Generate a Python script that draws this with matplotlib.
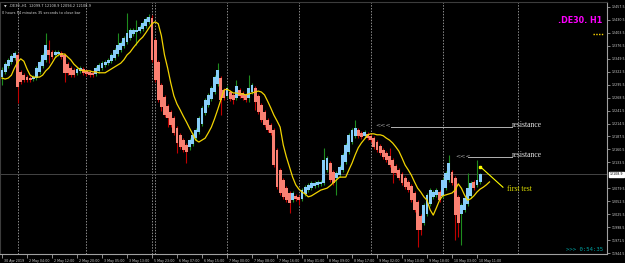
import matplotlib
matplotlib.use("Agg")
import matplotlib.pyplot as plt
import matplotlib.transforms as mtransforms

# Heiken Ashi bars, .DE30. H1
ha_open = [12311, 12322, 12334, 12342, 12351, 12357, 12322, 12315, 12311, 12309,
           12307, 12309, 12322, 12334, 12347, 12367, 12363, 12357, 12359, 12361,
           12357, 12338, 12330, 12326, 12320, 12324, 12328, 12324, 12322, 12320,
           12318, 12324, 12330, 12336, 12340, 12344, 12351, 12359, 12367, 12376,
           12384, 12392, 12401, 12405, 12407, 12411, 12417, 12426, 12434, 12388,
           12342, 12295, 12270, 12251, 12238, 12226, 12205, 12191, 12180, 12170,
           12166, 12172, 12184, 12197, 12214, 12236, 12253, 12266, 12280, 12297,
           12309, 12284, 12272, 12280, 12274, 12268, 12284, 12278, 12274, 12268,
           12280, 12288, 12272, 12253, 12238, 12222, 12211, 12201, 12159, 12118,
           12097, 12080, 12070, 12055, 12064, 12062, 12058, 12068, 12076, 12080,
           12085, 12087, 12089, 12091, 12118, 12132, 12114, 12101, 12107, 12118,
           12134, 12155, 12176, 12189, 12201, 12195, 12189, 12193, 12189, 12184,
           12176, 12168, 12159, 12153, 12147, 12139, 12126, 12118, 12110, 12101,
           12093, 12085, 12070, 12051, 12022, 12008, 12026, 12047, 12062, 12066,
           12072, 12064, 12080, 12097, 12114, 12101, 12062, 12026, 12035, 12047,
           12064, 12093, 12087, 12093]
ha_close = [12326, 12338, 12347, 12355, 12361, 12290, 12301, 12305, 12305, 12305,
            12311, 12330, 12342, 12357, 12378, 12357, 12353, 12363, 12363, 12353,
            12320, 12320, 12315, 12315, 12328, 12330, 12320, 12318, 12315, 12315,
            12330, 12336, 12340, 12342, 12347, 12357, 12367, 12378, 12382, 12392,
            12403, 12409, 12409, 12409, 12415, 12424, 12432, 12436, 12347, 12305,
            12263, 12249, 12232, 12226, 12211, 12195, 12174, 12166, 12159, 12155,
            12180, 12191, 12201, 12226, 12247, 12263, 12274, 12288, 12311, 12326,
            12263, 12268, 12288, 12266, 12263, 12293, 12272, 12268, 12263, 12288,
            12295, 12259, 12238, 12222, 12211, 12201, 12195, 12128, 12082, 12070,
            12062, 12055, 12049, 12070, 12058, 12055, 12076, 12082, 12087, 12091,
            12091, 12093, 12093, 12139, 12143, 12097, 12091, 12112, 12124, 12149,
            12170, 12191, 12201, 12205, 12189, 12186, 12197, 12184, 12180, 12166,
            12159, 12153, 12145, 12139, 12128, 12112, 12112, 12101, 12091, 12082,
            12076, 12055, 12035, 11993, 11993, 12045, 12066, 12076, 12072, 12076,
            12055, 12097, 12112, 12132, 12091, 12024, 12008, 12045, 12060, 12080,
            12091, 12080, 12097, 12108.9]
ha_high = [12332, 12342, 12351, 12359, 12365, 12361, 12326, 12319, 12315, 12313,
           12315, 12334, 12346, 12361, 12403, 12388, 12367, 12367, 12367, 12365,
           12361, 12342, 12334, 12330, 12332, 12334, 12332, 12328, 12326, 12324,
           12334, 12340, 12344, 12346, 12351, 12361, 12371, 12403, 12386, 12396,
           12444, 12413, 12413, 12430, 12419, 12428, 12436, 12442, 12440, 12392,
           12346, 12299, 12274, 12255, 12242, 12230, 12209, 12195, 12184, 12174,
           12184, 12195, 12205, 12230, 12251, 12267, 12278, 12292, 12315, 12340,
           12313, 12288, 12292, 12284, 12278, 12305, 12288, 12282, 12278, 12315,
           12299, 12292, 12276, 12257, 12242, 12226, 12215, 12205, 12163, 12122,
           12101, 12084, 12074, 12074, 12068, 12066, 12080, 12086, 12091, 12095,
           12095, 12097, 12097, 12164, 12147, 12136, 12118, 12116, 12128, 12153,
           12174, 12195, 12205, 12222, 12205, 12199, 12201, 12197, 12193, 12188,
           12180, 12172, 12163, 12157, 12164, 12143, 12130, 12122, 12114, 12105,
           12097, 12089, 12074, 12055, 12026, 12049, 12070, 12080, 12076, 12080,
           12076, 12101, 12116, 12149, 12118, 12105, 12066, 12049, 12064, 12112,
           12095, 12097, 12139, 12112]
ha_low = [12295, 12318, 12330, 12338, 12347, 12257, 12297, 12301, 12301, 12301,
          12303, 12305, 12318, 12330, 12343, 12340, 12349, 12353, 12355, 12349,
          12301, 12316, 12311, 12311, 12316, 12320, 12316, 12314, 12311, 12311,
          12314, 12320, 12326, 12332, 12336, 12340, 12347, 12355, 12363, 12372,
          12380, 12388, 12397, 12378, 12403, 12407, 12413, 12422, 12343, 12301,
          12259, 12240, 12228, 12207, 12207, 12191, 12153, 12162, 12155, 12132,
          12160, 12168, 12180, 12193, 12210, 12232, 12249, 12262, 12276, 12293,
          12232, 12264, 12268, 12262, 12255, 12264, 12268, 12264, 12259, 12260,
          12276, 12243, 12234, 12218, 12207, 12197, 12191, 12124, 12078, 12066,
          12058, 12051, 12028, 12051, 12054, 12045, 12054, 12064, 12072, 12076,
          12081, 12083, 12085, 12087, 12114, 12093, 12087, 12066, 12103, 12114,
          12130, 12151, 12172, 12185, 12185, 12182, 12185, 12180, 12176, 12162,
          12155, 12149, 12141, 12135, 12124, 12091, 12108, 12097, 12087, 12078,
          12072, 12051, 12031, 11958, 11983, 12004, 12022, 12043, 12058, 12062,
          12051, 12060, 12076, 12093, 12087, 11972, 11978, 11962, 12031, 12043,
          12060, 12076, 12083, 12089]

# moving average (shifted, runs a few bars past the last candle)
ma_line = [12309, 12307, 12309, 12315, 12330, 12342, 12349, 12344, 12328, 12315,
           12311, 12311, 12311, 12315, 12324, 12330, 12340, 12351, 12357, 12359,
           12359, 12353, 12347, 12338, 12332, 12326, 12324, 12324, 12324, 12322,
           12322, 12320, 12320, 12320, 12324, 12328, 12332, 12336, 12340, 12347,
           12357, 12363, 12372, 12380, 12388, 12394, 12403, 12413, 12422, 12426,
           12422, 12397, 12357, 12330, 12299, 12272, 12255, 12243, 12230, 12218,
           12205, 12193, 12180, 12176, 12180, 12184, 12195, 12207, 12224, 12243,
           12263, 12284, 12286, 12282, 12278, 12278, 12276, 12276, 12274, 12276,
           12278, 12280, 12282, 12280, 12274, 12261, 12247, 12232, 12220, 12207,
           12170, 12145, 12124, 12103, 12087, 12078, 12072, 12068, 12062, 12064,
           12068, 12072, 12076, 12078, 12080, 12085, 12091, 12097, 12103, 12103,
           12103, 12118, 12132, 12149, 12164, 12174, 12182, 12191, 12193, 12193,
           12191, 12191, 12189, 12184, 12180, 12174, 12166, 12157, 12143, 12128,
           12118, 12107, 12093, 12080, 12072, 12062, 12055, 12035, 12024, 12039,
           12055, 12064, 12066, 12068, 12070, 12076, 12089, 12080, 12066, 12055,
           12058, 12064, 12072, 12078, 12082, 12087, 12093]

tick_bars = list(range(0, 153, 8))
tick_labels = ["30 Apr 2019", "2 May 04:00", "2 May 12:00", "2 May 20:00", "3 May 05:00",
               "3 May 13:00", "5 May 23:00", "6 May 07:00", "6 May 15:00", "7 May 00:00",
               "7 May 08:00", "7 May 16:00", "8 May 01:00", "8 May 09:00", "8 May 17:00",
               "9 May 02:00", "9 May 10:00", "9 May 18:00", "10 May 03:00", "10 May 11:00"]
day_starts = [5, 27, 48, 49, 72, 95, 118, 141, 165]
price_ticks = [12457.5, 12430.5, 12403.5, 12376.5, 12349.5, 12322.5, 12295.5, 12268.5,
               12241.5, 12214.5, 12187.5, 12160.5, 12133.5, 12079.5, 12052.5, 12025.5,
               11998.5, 11971.5, 11944.5]
last_price = 12108.9

# drawn objects
res1 = (124.5, 163.2, 12208)
res2 = (149.1, 163.2, 12145)
first_test = ((153, 12125), (160.3, 12082))

UP_BODY = "#87cefa"
DN_BODY = "#fa8072"
UP_WICK = "#1e8c1e"
DN_WICK = "#c00000"

fig = plt.figure(figsize=(6.25, 2.63), dpi=100, facecolor="black")
ax = fig.add_axes([0.0, 0.0331, 0.9712, 0.9593], facecolor="black")

n = len(ha_close)
xs = list(range(n))
up = [ha_close[i] >= ha_open[i] for i in xs]

ax.vlines(xs, ha_low, ha_high, colors=[UP_WICK if u else DN_WICK for u in up],
          linewidth=0.8, zorder=2)
ax.bar(xs, [ha_close[i] - ha_open[i] for i in xs], bottom=ha_open, width=0.95,
       color=[UP_BODY if u else DN_BODY for u in up], linewidth=0, zorder=3)
ax.plot(range(len(ma_line)), ma_line, color="#f2d400", linewidth=0.9, zorder=4)

# period separators and bid line
for d in day_starts:
    ax.axvline(d, color="#8c8c8c", linewidth=0.7, linestyle=(0, (1.5, 1.5)), zorder=1)
ax.axhline(last_price, color="#505050", linewidth=0.6, zorder=1)

# resistance lines
for (x0, x1, y), arrow_x in [(res1, 119.6), (res2, 145.2)]:
    ax.plot([x0, x1], [y, y], color="#b4b4b4", linewidth=0.7, zorder=5)
    ax.text(arrow_x, y + 3, "<<<", color="#a8a8a8", fontsize=4.5, va="center",
            ha="left", family="DejaVu Sans", zorder=6)
    ax.text(x1 + 0.1, y + 4, "resistance", color="#e6e6e6", fontsize=5.5, va="center",
            ha="left", family="Liberation Serif", zorder=6)

(ax0, ay0), (ax1, ay1) = first_test
ax.plot([ax0, ax1], [ay0, ay1], color="#ffff00", linewidth=0.8, zorder=6)
ax.plot([ax0], [ay0], marker="s", markersize=2, color="#ffff00", zorder=6)
ax.text(ax1 + 1.2, ay1 - 4, "first test", color="#d8d800", fontsize=5.5, va="center",
        ha="left", family="Liberation Serif", zorder=6)

ax.set_xlim(-0.64, 193.6)
ax.set_ylim(11942.5, 12467.2)

# axes look
for side in ["left", "top"]:
    ax.spines[side].set_color("#3c3c3c")
for side in ["right", "bottom"]:
    ax.spines[side].set_color("#a0a0a0")
    ax.spines[side].set_linewidth(0.8)

ax.yaxis.tick_right()
ax.set_yticks(price_ticks)
ax.set_yticklabels([f"{p:.1f}" for p in price_ticks])
ax.tick_params(axis="y", colors="#a0a0a0", labelcolor="#d0d0d0", labelsize=2.3,
               length=2, width=0.6, pad=1.2)
ax.set_xticks(tick_bars)
ax.set_xticklabels(tick_labels)
ax.tick_params(axis="x", colors="#a0a0a0", labelcolor="#d0d0d0", labelsize=2.3,
               length=3, width=0.6, pad=0.4)
offset = mtransforms.ScaledTranslation(1.5 / 100, 0, fig.dpi_scale_trans)
for lbl in ax.get_xticklabels():
    lbl.set_ha("left")
    lbl.set_transform(lbl.get_transform() + offset)

# current price box on the scale
price_tr = mtransforms.blended_transform_factory(ax.transAxes, ax.transData)
ax.text(1.005, last_price, f"{last_price:.1f}", transform=price_tr, fontsize=2.3,
        color="black", va="center", ha="left", clip_on=False,
        bbox=dict(boxstyle="square,pad=0.2", facecolor="white", edgecolor="white"))

# chart texts
ax.text(0.006, 0.992, "\u25bc  .DE30.,H1  12099.7 12108.9 12094.2 12108.9",
        transform=ax.transAxes, fontsize=2.5, color="#d8d8d8", va="top", ha="left")
ax.text(0.004, 0.966, "0 hours 54 minutes 35 seconds to close bar",
        transform=ax.transAxes, fontsize=2.5, color="#d8d8d8", va="top", ha="left")
ax.text(0.992, 0.925, ".DE30. H1", transform=ax.transAxes, fontsize=5.8,
        fontweight="bold", color="#ff00ff", va="center", ha="right")
ax.plot([0.977, 0.993], [0.873, 0.873], transform=ax.transAxes, color="#ffd700",
        linewidth=1.0, linestyle=(0, (1, 1)))
ax.text(0.993, 0.018, ">>> 0:54:35", transform=ax.transAxes, fontsize=4.1,
        family="DejaVu Sans Mono", color="#00a8a8", va="center", ha="right")

fig.savefig("out.png", dpi=100, facecolor="black")
